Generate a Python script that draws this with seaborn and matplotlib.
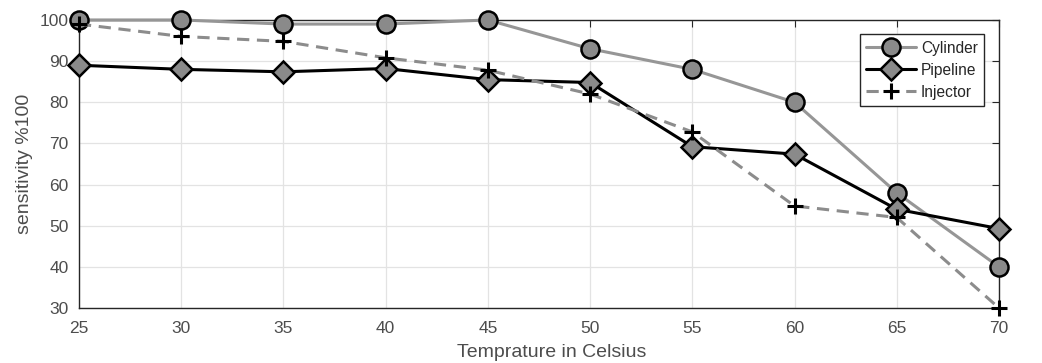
import matplotlib
matplotlib.use("Agg")
import matplotlib.pyplot as plt
import seaborn as sns
import pandas as pd

temperature = [25, 30, 35, 40, 45, 50, 55, 60, 65, 70]
cylinder = [100, 100, 99, 99, 100, 93, 88, 80, 58, 40]
pipeline = [89, 88, 87.4, 88.2, 85.5, 84.8, 69.2, 67.4, 54, 49.3]
injector = [99, 96, 94.8, 90.8, 87.8, 82, 72.8, 54.8, 52, 30]
series_names = ["Cylinder", "Pipeline", "Injector"]
x_ticks = [25, 30, 35, 40, 45, 50, 55, 60, 65, 70]
y_ticks = [30, 40, 50, 60, 70, 80, 90, 100]

sns.set_style("white")
plt.rcParams['font.family'] = ['Liberation Sans', 'DejaVu Sans']

df = pd.DataFrame({"T": temperature * 3,
                   "v": cylinder + pipeline + injector,
                   "s": [n for n in series_names for _ in temperature]})

fig = plt.figure(figsize=(10.42, 3.63), dpi=100)
ax = fig.add_axes([0.0758, 0.1515, 0.8829, 0.7935])

styles = {
    "Cylinder": dict(color="#969696", linestyle="-", linewidth=2.2, marker="o",
                     markersize=13, markerfacecolor="#8a8a8a", markeredgecolor="black",
                     markeredgewidth=1.8),
    "Pipeline": dict(color="black", linestyle="-", linewidth=2.2, marker="D",
                     markersize=11, markerfacecolor="#8a8a8a", markeredgecolor="black",
                     markeredgewidth=1.8),
    "Injector": dict(color="#8c8c8c", linestyle=(0, (4, 2.5)), linewidth=2.2, marker="+",
                     markersize=12, markeredgecolor="black", markeredgewidth=2.2),
}
for name in series_names:
    sub = df[df["s"] == name]
    sns.lineplot(data=sub, x="T", y="v", ax=ax, label=name, clip_on=False,
                 zorder=3, **styles[name])

ax.set_xlim(25, 70)
ax.set_ylim(30, 100)
ax.set_xticks(x_ticks)
ax.set_yticks(y_ticks)
ax.grid(True, color="#e3e3e3", linewidth=0.9)
ax.set_axisbelow(True)
ax.tick_params(direction="in", length=5, top=True, right=True, colors="#262626",
               labelcolor="#4d4d4d", labelsize=12.5)
ax.tick_params(axis="x", pad=9.5)
ax.tick_params(axis="y", pad=7.5)
for sp in ax.spines.values():
    sp.set_color("#262626")
    sp.set_linewidth(1.0)
ax.set_xlabel("Temprature in Celsius", fontsize=14, color="#4d4d4d")
ax.xaxis.set_label_coords(0.514, -0.153)
ax.xaxis.label.set_va("center")
ax.set_ylabel("sensitivity %100", fontsize=14, color="#4d4d4d", labelpad=5)

leg = ax.legend(loc="upper right", bbox_to_anchor=(0.984, 0.95), fontsize=11.2,
                frameon=True, fancybox=False, edgecolor="#262626", framealpha=1,
                handlelength=3.2, borderpad=0.42, labelspacing=0.45, handletextpad=0.3,
                borderaxespad=0)
leg.get_frame().set_linewidth(1.0)
leg.set_zorder(5)
for t in leg.get_texts():
    t.set_color("#262626")

fig.savefig("out.png", dpi=100)
